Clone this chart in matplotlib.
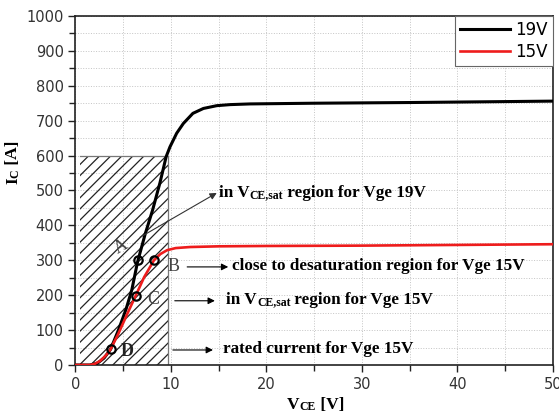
import numpy as np
import matplotlib.pyplot as plt
from matplotlib.patches import Rectangle

# output characteristics, read point by point
vce_19 = [0, 1.5, 2.3, 3.0, 3.68, 4.5, 5.3, 5.9, 6.5, 7.3, 8.08, 8.85, 9.5,
          9.9, 10.6, 11.3, 12.3, 13.4, 14.8, 16.2, 18.3, 25, 35, 50]
ic_19 = [0, 0, 5, 20, 45, 100, 160, 215, 295, 375, 444, 522, 597,
         625, 664, 692, 721, 735, 743, 746, 748, 750, 752, 756]

vce_15 = [0, 1.5, 2.0, 2.6, 3.2, 3.68, 4.5, 5.4, 6.30, 7.2, 8.22, 8.9, 9.6,
          10.5, 12, 15, 20, 30, 40, 50]
ic_15 = [0, 0, 3, 12, 28, 45, 90, 145, 198, 252, 300, 318, 329,
         335, 338, 340, 341, 342, 344, 346]

# operating points A-D
pt_names = ['A', 'B', 'C', 'D']
pt_vce = [6.5, 8.22, 6.30, 3.68]
pt_ic = [300, 300, 198, 45]

# shaded safe region
box_vce = [0.5, 9.7]
box_ic = 600

serif = 'Liberation Serif'

fig = plt.figure(figsize=(5.59, 4.19), dpi=100)
ax = fig.add_axes([0.135, 0.1289, 0.854, 0.833])


def rich(x, y, pieces, transform, rotation=0, color='black', weight='bold'):
    """draw text pieces of different sizes one after another"""
    prev = None
    for s, size in pieces:
        if prev is None:
            if rotation:
                prev = fig.text(x, y, s, transform=transform, fontsize=size, family=serif,
                                weight=weight, color=color, rotation=90,
                                ha='right', va='bottom')
            else:
                prev = ax.text(x, y, s, transform=transform, fontsize=size, family=serif,
                               weight=weight, color=color, ha='left', va='bottom')
        else:
            if rotation:
                prev = ax.annotate(s, xy=(1, 1), xycoords=prev, fontsize=size, family=serif,
                                   weight=weight, color=color, rotation=90,
                                   ha='right', va='bottom', annotation_clip=False)
            else:
                prev = ax.annotate(s, xy=(1, 0), xycoords=prev, fontsize=size, family=serif,
                                   weight=weight, color=color, ha='left', va='bottom',
                                   annotation_clip=False)
    return prev


plt.rcParams['hatch.linewidth'] = 0.9
ax.add_patch(Rectangle((box_vce[0], 0), box_vce[1] - box_vce[0], box_ic,
                       facecolor='none', edgecolor='#222222', hatch='///', lw=0.0, zorder=1))
ax.plot([box_vce[1], box_vce[1]], [0, box_ic], color='#777777', lw=0.9, zorder=1)
ax.plot(box_vce, [box_ic, box_ic], color='#777777', lw=0.9, zorder=1)

ax.plot(vce_19, ic_19, color='black', lw=2.2, label='19V', zorder=3)
ax.plot(vce_15, ic_15, color='#ee1c1c', lw=1.9, label='15V', zorder=3)
ax.plot(pt_vce, pt_ic, 'o', ms=6, mfc='none', mec='black', mew=1.6, zorder=4)

# point letters
ax.text(4.8, 339, 'A', fontsize=13, family=serif, color='#444444', rotation=30,
        ha='center', va='center')
ax.text(10.25, 281, 'B', fontsize=13, family=serif, color='#444444', ha='center', va='center')
ax.text(8.15, 188, 'C', fontsize=13, family=serif, color='#444444', ha='center', va='center')
ax.text(5.4, 40, 'D', fontsize=13, family=serif, color='#222222', weight='bold',
        ha='center', va='center')

arrow = dict(arrowstyle='-|>', color='black', lw=0.8, mutation_scale=10, shrinkA=0, shrinkB=0)
ax.annotate('', xy=(14.8, 493), xytext=(6.77, 366),
            arrowprops=dict(arrow, color='#333333'))
ax.annotate('', xy=(16.0, 281), xytext=(11.7, 281), arrowprops=arrow)
ax.annotate('', xy=(14.6, 184), xytext=(10.4, 184), arrowprops=arrow)
ax.annotate('', xy=(14.4, 43), xytext=(10.2, 43), arrowprops=arrow)

big, small = 12.3, 8.5
rich(15.0, 470, [('in V', big), ('CE,sat', small), (' region for Vge 19V', big)], ax.transData)
rich(16.4, 260, [('close to desaturation region for Vge 15V', big)], ax.transData)
rich(15.8, 163, [('in V', big), ('CE,sat', small), (' region for Vge 15V', big)], ax.transData)
rich(15.5, 22, [('rated current for Vge 15V', big)], ax.transData)

# axis titles
rich(0.513, 0.014, [('V', 12.5), ('CE', 8.5), (' [V]', 12.5)], fig.transFigure)
rich(0.038, 0.56, [('I', 12.5), ('C', 8.5), (' [A]', 12.5)], fig.transFigure, rotation=90)

ax.set_xlim(0, 50)
ax.set_ylim(0, 1000)
ax.set_xticks(np.arange(0, 51, 10))
ax.set_xticks(np.arange(5, 50, 10), minor=True)
ax.set_yticks(np.arange(0, 1001, 100))
ax.set_yticks(np.arange(50, 1000, 100), minor=True)
ax.tick_params(which='both', direction='out', color='#222222', width=1.0,
               labelsize=10.5, labelcolor='#333333')
ax.tick_params(which='major', length=5)
ax.tick_params(which='minor', length=4)
ax.grid(which='both', color='#c4c4c4', ls=':', lw=0.7, zorder=0)
ax.set_axisbelow(True)
for sp in ax.spines.values():
    sp.set_linewidth(1.2)
    sp.set_color('#222222')

leg = ax.legend(loc='upper right', borderaxespad=0, fancybox=False, edgecolor='#666666',
                fontsize=12, handlelength=3.0, handletextpad=0.35, labelspacing=0.25,
                borderpad=0.3, framealpha=1)
leg.get_frame().set_linewidth(0.8)

fig.savefig('out.png', dpi=100)
